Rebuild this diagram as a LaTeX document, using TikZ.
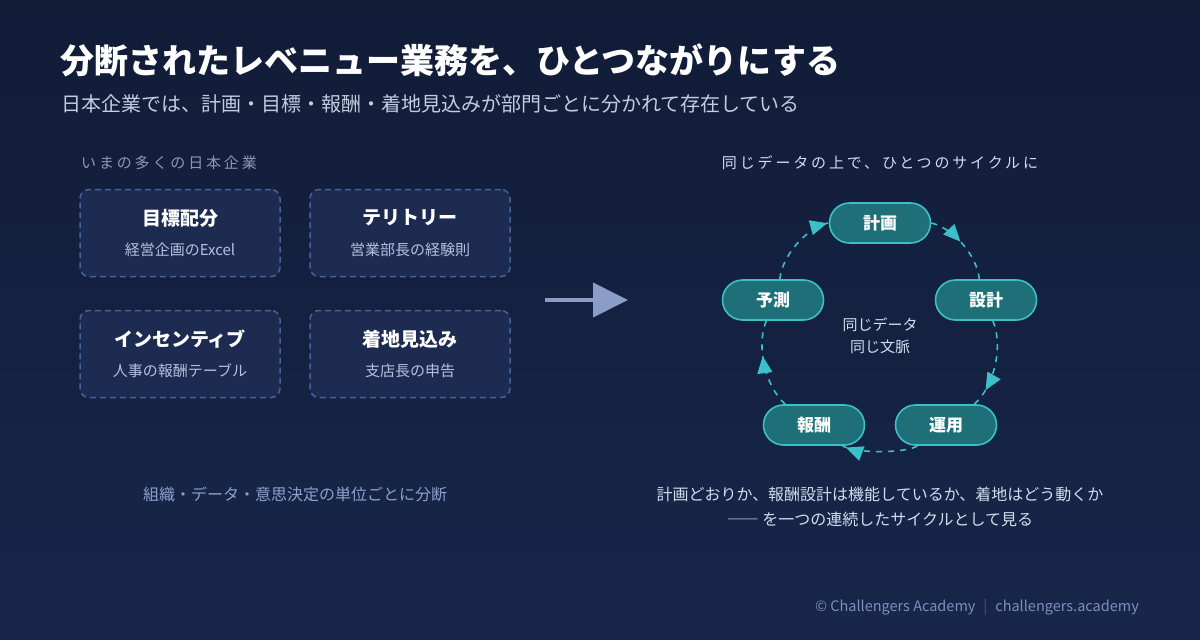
\documentclass[tikz,border=0pt]{standalone}
\usepackage{fontspec}
\setmainfont{Noto Sans CJK JP}
\newfontfamily\spacedfont{Noto Sans CJK JP}[LetterSpace=19]
\usetikzlibrary{arrows.meta,decorations.markings}

\definecolor{bgtop}{HTML}{111C37}
\definecolor{bgbot}{HTML}{17264A}
\definecolor{boxfill}{HTML}{1D2B50}
\definecolor{boxline}{HTML}{44639A}
\definecolor{subgray}{HTML}{C3CCE0}
\definecolor{boxsub}{HTML}{B5C1DC}
\definecolor{labelgray}{HTML}{8E98B4}
\definecolor{arrowblue}{HTML}{8C9CC8}
\definecolor{notegray}{HTML}{8EA0CC}
\definecolor{tealfill}{HTML}{1F6F78}
\definecolor{tealline}{HTML}{3CC0C8}
\definecolor{lighttext}{HTML}{D2DDEE}
\definecolor{footblue}{HTML}{7C8EBD}
\definecolor{footsep}{HTML}{3A5592}

\newcommand{\pxsize}[1]{\fontsize{#1}{#1}\selectfont}

\tikzset{
  catbox/.style={draw=boxline, fill=boxfill, dash pattern=on 6pt off 4pt,
    line width=1.5pt, rounded corners=9pt, minimum width=200pt, minimum height=87pt},
  cattitle/.style={text=white, font=\pxsize{19}\bfseries},
  catsub/.style={text=boxsub, font=\pxsize{15}},
  stage/.style={draw=tealline, fill=tealfill, line width=1.6pt, rounded corners=20pt,
    minimum width=101pt, minimum height=40pt, text=white, font=\pxsize{17}\bfseries},
  cycarc/.style={draw=tealline, line width=1.6pt, dash pattern=on 6pt off 6pt,
    looseness=0.8,
    postaction={decorate}, decoration={markings,
      mark=at position #1 with {\arrow{Triangle[length=17pt,width=15pt]}}}},
}

\begin{document}
\begin{tikzpicture}[x=1pt, y=-1pt, every node/.style={inner sep=0pt}]
  % background
  \shade[top color=bgtop, bottom color=bgbot] (0,0) rectangle (1200,640);
  \useasboundingbox (0,0) rectangle (1200,640);

  % heading
  \node[anchor=west, text=white, font=\pxsize{34}\bfseries] (title) at (60,60)
    {分断されたレベニュー業務を、ひとつながりにする};
  \node[anchor=west, text=subgray, font=\pxsize{20}] (subtitle) at (61,104)
    {日本企業では、計画・目標・報酬・着地見込みが部門ごとに分かれて存在している};

  % left: silos
  \node[anchor=west, text=labelgray, font=\spacedfont\pxsize{15}] (nowlbl) at (81,163)
    {いまの多くの日本企業};
  \foreach \bx/\by/\ttl/\sub [count=\i] in {180/233/目標配分/経営企画のExcel,
      410/233/テリトリー/営業部長の経験則,
      180/354/インセンティブ/人事の報酬テーブル,
      410/354/着地見込み/支店長の申告} {
    \node[catbox] (box\i) at (\bx,\by) {};
    \node[cattitle] (boxt\i) at ([yshift=15pt]box\i.center) {\ttl};
    \node[catsub] (boxs\i) at ([yshift=-17pt]box\i.center) {\sub};
  }
  \node[text=notegray, font=\pxsize{16}] (splitnote) at (295,494)
    {組織・データ・意思決定の単位ごとに分断};

  % middle arrow
  \coordinate (arrS) at (545,300);
  \coordinate (arrE) at (628,300);
  \draw[arrowblue, line width=4pt, -{Triangle[length=35pt,width=34pt]}] (arrS) -- (arrE);

  % right: cycle
  \node[text=lighttext, font=\spacedfont\pxsize{15}] (cyclbl) at (880,163)
    {同じデータの上で、ひとつのサイクルに};
  \node[stage] (plan) at (880,223) {計画};
  \node[stage] (design) at (986,300) {設計};
  \node[stage] (ops) at (946,425) {運用};
  \node[stage] (pay) at (814,425) {報酬};
  \node[stage] (fcst) at (773,300) {予測};
  \node[text=lighttext, font=\pxsize{15}, align=center] (core) at (880,336)
    {同じデータ\\[7pt]同じ文脈};

  \draw[cycarc=0.45] (plan) to[bend left=36] (design);
  \draw[cycarc=0.8] (design) to[bend left=36] (ops);
  \draw[cycarc=0.95, looseness=0.45] (ops) to[bend left=36] (pay);
  \draw[cycarc=0.6] (pay) to[bend left=36] (fcst);
  \draw[cycarc=0.98] (fcst) to[bend left=36] (plan);

  \node[text=lighttext, font=\pxsize{16}, align=center] (cycnote) at (880,507)
    {計画どおりか、報酬設計は機能しているか、着地はどう動くか\\[9pt]
     ―― を一つの連続したサイクルとして見る};

  % footer
  \node[anchor=east, text=footblue, font=\pxsize{14.5}] (footer) at (1139,607)
    {© Challengers Academy\hspace{8pt}{\color{footsep}|}\hspace{8pt}challengers.academy};
\end{tikzpicture}
\end{document}
